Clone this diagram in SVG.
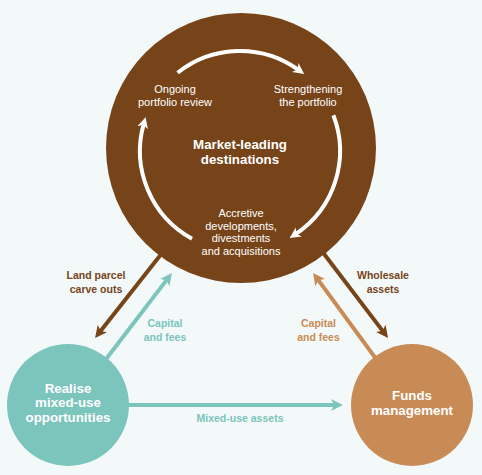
<svg xmlns="http://www.w3.org/2000/svg" width="482" height="475" viewBox="0 0 482 475">
<style>
text{font-family:"Liberation Sans",Arial,sans-serif;text-anchor:middle}
.in{font-size:11px;fill:#ffffff}
.title{font-size:13.3px;font-weight:bold;fill:#ffffff}
.lbl{font-size:10.5px;font-weight:bold}
.br{fill:#77441a}
.tl{fill:#7cc5bd}
.or{fill:#c98b56}
.cyc{fill:none;stroke:#ffffff;stroke-width:4}
.con{fill:none;stroke-width:4}
</style>
<defs>
<marker id="hw" markerUnits="userSpaceOnUse" markerWidth="12" markerHeight="12" refX="4" refY="5.5" orient="auto" viewBox="0 0 12 11"><path d="M0,0 L11,5.5 L0,11 L3,5.5 Z" fill="#ffffff"/></marker>
<marker id="hb" markerUnits="userSpaceOnUse" markerWidth="13" markerHeight="13" refX="4" refY="6" orient="auto" viewBox="0 0 13 12"><path d="M0,0 L12,6 L0,12 L3,6 Z" fill="#77441a"/></marker>
<marker id="ht" markerUnits="userSpaceOnUse" markerWidth="13" markerHeight="13" refX="4" refY="6" orient="auto" viewBox="0 0 13 12"><path d="M0,0 L12,6 L0,12 L3,6 Z" fill="#7cc5bd"/></marker>
<marker id="ho" markerUnits="userSpaceOnUse" markerWidth="13" markerHeight="13" refX="4" refY="6" orient="auto" viewBox="0 0 13 12"><path d="M0,0 L12,6 L0,12 L3,6 Z" fill="#c98b56"/></marker>
</defs>
<rect width="482" height="475" fill="#f3f9f9"/>
<g id="connectors">
<line class="con" x1="166" y1="248" x2="100" y2="331.7" stroke="#77441a" marker-end="url(#hb)"/>
<line class="con" x1="100" y1="367" x2="167.1" y2="279.4" stroke="#7cc5bd" marker-end="url(#ht)"/>
<line class="con" x1="318" y1="246" x2="383.2" y2="331.6" stroke="#77441a" marker-end="url(#hb)"/>
<line class="con" x1="382" y1="367" x2="317.8" y2="279.4" stroke="#c98b56" marker-end="url(#ho)"/>
<line class="con" x1="125" y1="405" x2="335" y2="405" stroke="#7cc5bd" marker-end="url(#ht)"/>
<text class="lbl br" x="96" y="279">Land parcel</text>
<text class="lbl br" x="96" y="292.7">carve outs</text>
<text class="lbl tl" x="165" y="327">Capital</text>
<text class="lbl tl" x="165" y="340.7">and fees</text>
<text class="lbl br" x="383" y="279">Wholesale</text>
<text class="lbl br" x="383" y="292.7">assets</text>
<text class="lbl or" x="318.5" y="327">Capital</text>
<text class="lbl or" x="318.5" y="340.7">and fees</text>
<text class="lbl tl" x="240" y="422">Mixed-use assets</text>
</g>
<g id="market-leading">
<circle cx="241" cy="148" r="135" fill="#77441a"/>
<path class="cyc" d="M177.6,72.8 A100,100 0 0 1 298.5,69.9" marker-end="url(#hw)"/>
<path class="cyc" d="M333.4,115.2 A100,100 0 0 1 295.5,234.2" marker-end="url(#hw)"/>
<path class="cyc" d="M192,238.7 A100,100 0 0 1 143.7,123.9" marker-end="url(#hw)"/>
<text class="in" x="175" y="93">Ongoing</text>
<text class="in" x="175" y="106">portfolio review</text>
<text class="in" x="308" y="93">Strengthening</text>
<text class="in" x="308" y="106">the portfolio</text>
<text class="title" x="240" y="149">Market-leading</text>
<text class="title" x="240" y="163.5">destinations</text>
<text class="in" x="241" y="217">Accretive</text>
<text class="in" x="241" y="229.7">developments,</text>
<text class="in" x="241" y="242.4">divestments</text>
<text class="in" x="241" y="255">and acquisitions</text>
</g>
<g id="realise">
<circle cx="68" cy="405" r="61" fill="#7cc5bd"/>
<text class="title" x="68" y="392.5">Realise</text>
<text class="title" x="68" y="407">mixed-use</text>
<text class="title" x="68" y="421.5">opportunities</text>
</g>
<g id="funds">
<circle cx="412" cy="405" r="61" fill="#c98b56"/>
<text class="title" x="412" y="399.5">Funds</text>
<text class="title" x="412" y="414.5">management</text>
</g>
</svg>
